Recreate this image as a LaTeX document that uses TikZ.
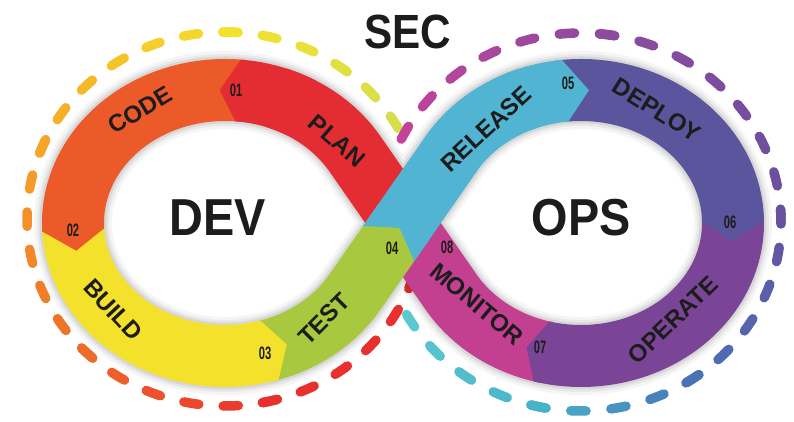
\documentclass[tikz,border=0pt]{standalone}
\usepackage{fontspec}
\setmainfont{Liberation Sans}
\usetikzlibrary{calc}
\definecolor{cplan}{HTML}{E42D33}
\definecolor{ccode}{HTML}{EC5A29}
\definecolor{cbuild}{HTML}{F4E12B}
\definecolor{ctest}{HTML}{A8C83F}
\definecolor{crel}{HTML}{50B4D2}
\definecolor{cdep}{HTML}{5B559E}
\definecolor{cop}{HTML}{7A4597}
\definecolor{cmon}{HTML}{C2408F}
\definecolor{ink}{HTML}{1C1C1C}
\definecolor{rYG}{HTML}{D5DF4E}
\definecolor{rY}{HTML}{F3E22C}
\definecolor{rO}{HTML}{F5A527}
\definecolor{rOR}{HTML}{EE6A2A}
\definecolor{rR}{HTML}{E8302F}
\definecolor{rM}{HTML}{C3439B}
\definecolor{rP}{HTML}{8C4B9E}
\definecolor{rI}{HTML}{6750A0}
\definecolor{rB}{HTML}{4A72B6}
\definecolor{rT}{HTML}{47B3C9}
\definecolor{rC}{HTML}{5DC8D0}
\tikzset{
  band/.style={line width=62pt},
  ringdash/.style={line width=9.5pt, line cap=round},
  lbl/.style={text=ink, font=\fontsize{24}{24}\selectfont\bfseries, inner sep=0pt},
  num/.style={text=ink, font=\fontsize{18}{18}\selectfont\bfseries, inner sep=0pt},
  big/.style={text=ink, font=\fontsize{52}{52}\selectfont\bfseries, inner sep=0pt},
}
\newcommand\bandseg[5]{%
  \fill[#5] ($(#1)+(#2:183pt and 164pt)$) arc[start angle=#2, end angle=#3, x radius=183pt, y radius=164pt]
   -- ($(#1)+(#4:152pt and 133pt)$)
   -- ($(#1)+(#3:121pt and 102pt)$) arc[start angle=#3, end angle=#2, x radius=121pt, y radius=102pt] -- cycle;}
\begin{document}
\begin{tikzpicture}[x=1pt,y=1pt]
\useasboundingbox (0,0) rectangle (794,422);
\fill[white] (0,0) rectangle (794,422);
\coordinate (CL) at (225,199);
\coordinate (CR) at (581,199);
\coordinate (X) at (403,199);
\coordinate (TLu) at (354.8,268.3);
\coordinate (TLd) at (354.8,129.7);
\coordinate (TRu) at (451.2,268.3);
\coordinate (TRd) at (451.2,129.7);
\coordinate (LR) at (225,203);
\coordinate (RR) at (581,200);

% dashed rings
\foreach \ca/\cb/\ia/\ib in {rYG/rY/0/5, rY/rO/5/11, rO/rOR/11/17, rOR/rR/17/22, rR/rR/22/27}{
  \foreach \i in {\ia,...,\ib}{
    \pgfmathsetmacro\p{100*(\i-\ia)/(\ib-\ia)}
    \pgfmathsetmacro\a{29+\i*11.45}
    \colorlet{dc}{\cb!\p!\ca}
    \draw[ringdash, dc] ($(LR)+(\a:198pt and 187pt)$) arc[start angle=\a, end angle=\a+4.4, x radius=198pt, y radius=187pt];
  }
}
\foreach \ca/\cb/\ia/\ib in {rM/rP/0/6, rP/rI/6/13, rI/rB/13/18, rB/rT/18/22, rT/rC/22/26}{
  \foreach \i in {\ia,...,\ib}{
    \pgfmathsetmacro\p{100*(\i-\ia)/(\ib-\ia)}
    \pgfmathsetmacro\a{154-\i*11.55}
    \colorlet{dc}{\cb!\p!\ca}
    \draw[ringdash, dc] ($(RR)+(\a:200pt and 189pt)$) arc[start angle=\a, end angle=\a-4.4, x radius=200pt, y radius=189pt];
  }
}

% soft shadow
\foreach \sw/\op in {78/0.04, 72/0.05, 67/0.07}{
  \draw[line width=\sw pt, black, opacity=\op] (X) -- (TLu) arc[start angle=31.4, end angle=328.6, x radius=152pt, y radius=133pt] -- (X) -- (TRu) arc[start angle=148.6, end angle=-148.6, x radius=152pt, y radius=133pt] -- cycle;
}

% MONITOR
\draw[band, cmon] ($(CR)+(257:152pt and 133pt)$) arc[start angle=257, end angle=211.4, x radius=152pt, y radius=133pt] -- (X);
% PLAN body
\draw[band, cplan] (X) -- (TLu) arc[start angle=31.4, end angle=70, x radius=152pt, y radius=133pt];
% TEST
\draw[band, ctest] ($(CL)+(285:152pt and 133pt)$) arc[start angle=285, end angle=328.6, x radius=152pt, y radius=133pt] -- (X);
% BUILD, CODE, PLAN head
\bandseg{CL}{181}{287}{294}{cbuild}
\bandseg{CL}{83}{183}{192}{ccode}
\bandseg{CL}{60}{85}{92}{cplan}
% OPERATE, DEPLOY
\bandseg{CR}{3}{-105}{-111}{cop}
\bandseg{CR}{98}{1}{-8}{cdep}
% RELEASE
\fill[crel] (363.2,196.2) -- (399.6,194.1) -- (414.2,160.8) -- (477.3,251.4) -- (426.3,286.8) -- cycle;
\draw[band, crel] (TRu) arc[start angle=148.6, end angle=110, x radius=152pt, y radius=133pt];
\bandseg{CR}{115}{96}{87}{crel}

% labels
\node[lbl, rotate=31] (code) at (140,312) {CODE};
\node[lbl, rotate=-41] (plan) at (337,281) {PLAN};
\node[lbl, rotate=-47] (build) at (113,112) {BUILD};
\node[lbl, rotate=45] (test) at (324,103) {TEST};
\node[lbl, rotate=43] (release) at (486,293) {RELEASE};
\node[lbl, rotate=-32] (deploy) at (657,312) {DEPLOY};
\node[lbl, rotate=44] (operate) at (673,102) {OPERATE};
\node[lbl, rotate=-40] (monitor) at (477,118) {MONITOR};

\node[num] (n1) at (236,332) {\scalebox{0.62}[1]{01}};
\node[num] (n2) at (73,192) {\scalebox{0.62}[1]{02}};
\node[num] (n3) at (265,69) {\scalebox{0.62}[1]{03}};
\node[num] (n4) at (392,174) {\scalebox{0.62}[1]{04}};
\node[num] (n5) at (568,339) {\scalebox{0.62}[1]{05}};
\node[num] (n6) at (730,200) {\scalebox{0.62}[1]{06}};
\node[num] (n7) at (540,75) {\scalebox{0.62}[1]{07}};
\node[num] (n8) at (447,175) {\scalebox{0.62}[1]{08}};

\node[big] (dev) at (218,204) {\scalebox{0.9}[1]{DEV}};
\node[big] (ops) at (581,204) {\scalebox{0.9}[1]{OPS}};
\node[big, font=\fontsize{48}{48}\selectfont\bfseries] (sec) at (408,390) {\scalebox{0.88}[1]{SEC}};
\end{tikzpicture}
\end{document}
